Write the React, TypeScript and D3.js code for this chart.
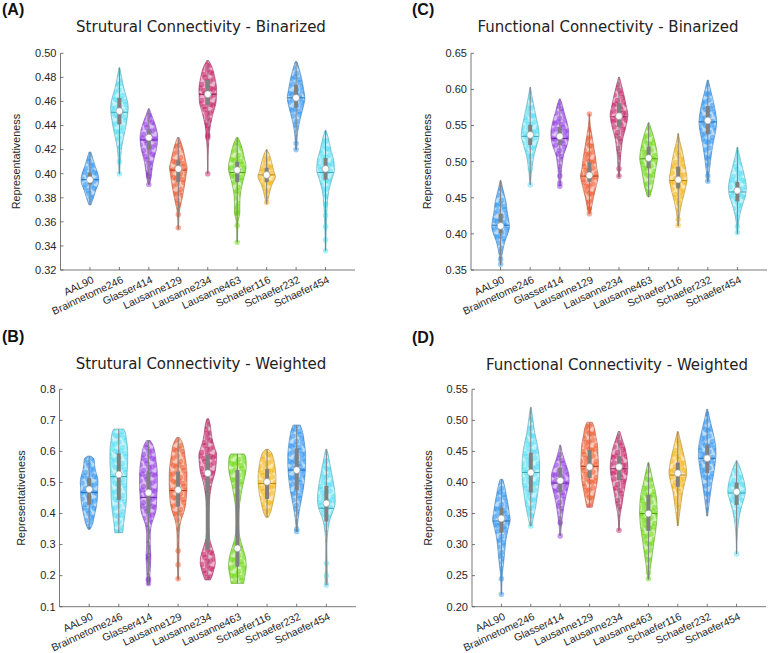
import React from 'react'
import * as d3 from 'd3'

type Prof = [number, number][]

const categories = ['AAL90', 'Brainnetome246', 'Glasser414', 'Lausanne129', 'Lausanne234', 'Lausanne463', 'Schaefer116', 'Schaefer232', 'Schaefer454']
const violinColors = ['#1e8ff5', '#45dcf5', '#8a2be2', '#f04b1c', '#c4105c', '#62d800', '#f4b000', '#1e8ff5', '#45dcf5']

// ---- (A) structural, binarized
const aTicks = [0.32, 0.34, 0.36, 0.38, 0.4, 0.42, 0.44, 0.46, 0.48, 0.5]
const aProfiles: Prof[] = [
  [[0.418, 0.1], [0.412, 0.35], [0.406, 0.6], [0.4, 0.9], [0.394, 1], [0.386, 0.65], [0.38, 0.4], [0.374, 0.1]],
  [[0.488, 0.05], [0.48, 0.25], [0.471, 0.5], [0.462, 0.85], [0.455, 1], [0.447, 0.9], [0.436, 0.65], [0.424, 0.3], [0.415, 0.15], [0.408, 0.08], [0.4, 0.04]],
  [[0.454, 0.05], [0.448, 0.35], [0.44, 0.75], [0.43, 1], [0.42, 0.85], [0.41, 0.5], [0.4, 0.3], [0.395, 0.2], [0.391, 0.05]],
  [[0.43, 0.1], [0.425, 0.35], [0.42, 0.55], [0.41, 0.85], [0.405, 1], [0.4, 0.9], [0.39, 0.7], [0.38, 0.45], [0.375, 0.3], [0.37, 0.15], [0.365, 0.08], [0.36, 0.05], [0.354, 0.03]],
  [[0.494, 0.1], [0.49, 0.4], [0.48, 0.8], [0.47, 1], [0.46, 0.95], [0.45, 0.6], [0.44, 0.3], [0.43, 0.15], [0.42, 0.06], [0.41, 0.03], [0.4, 0.02]],
  [[0.43, 0.1], [0.425, 0.4], [0.415, 0.75], [0.405, 1], [0.395, 0.7], [0.385, 0.4], [0.375, 0.3], [0.368, 0.3], [0.36, 0.1], [0.35, 0.05], [0.343, 0.03]],
  [[0.42, 0.05], [0.415, 0.35], [0.41, 0.55], [0.4, 0.9], [0.398, 1], [0.39, 0.55], [0.385, 0.35], [0.38, 0.2], [0.375, 0.05]],
  [[0.493, 0.1], [0.487, 0.35], [0.48, 0.6], [0.47, 0.85], [0.463, 1], [0.455, 0.8], [0.445, 0.45], [0.44, 0.3], [0.43, 0.12], [0.425, 0.08], [0.42, 0.04]],
  [[0.436, 0.05], [0.43, 0.3], [0.42, 0.6], [0.41, 0.95], [0.403, 1], [0.395, 0.7], [0.385, 0.35], [0.375, 0.2], [0.365, 0.12], [0.355, 0.08], [0.345, 0.05], [0.336, 0.03]],
]
const aMedian = [0.395, 0.452, 0.43, 0.404, 0.466, 0.403, 0.399, 0.463, 0.404]
const aQ1 = [0.391, 0.441, 0.42, 0.393, 0.457, 0.393, 0.393, 0.455, 0.395]
const aQ3 = [0.401, 0.463, 0.436, 0.411, 0.478, 0.41, 0.405, 0.474, 0.413]
const aMean = [0.395, 0.451, 0.428, 0.403, 0.466, 0.401, 0.399, 0.463, 0.401]
const aTails = [[], [0.41, 0.4], [0.4, 0.398, 0.391], [0.375, 0.366, 0.355], [0.44, 0.432, 0.43, 0.4], [0.368, 0.367, 0.357, 0.343], [0.376], [0.425, 0.42], [0.375, 0.365, 0.356, 0.345, 0.336]]

// ---- (B) structural, weighted
const bTicks = [0.1, 0.2, 0.3, 0.4, 0.5, 0.6, 0.7, 0.8]
const bProfiles: Prof[] = [
  [[0.585, 0.15], [0.575, 0.55], [0.56, 0.6], [0.54, 0.7], [0.52, 0.9], [0.5, 1], [0.48, 0.95], [0.46, 0.95], [0.44, 0.9], [0.42, 0.8], [0.4, 0.65], [0.38, 0.5], [0.36, 0.3], [0.349, 0.1]],
  [[0.672, 0.55], [0.66, 0.75], [0.64, 0.85], [0.62, 0.95], [0.6, 1], [0.57, 1], [0.54, 0.95], [0.5, 0.9], [0.47, 0.88], [0.44, 0.85], [0.4, 0.7], [0.37, 0.55], [0.338, 0.45]],
  [[0.635, 0.2], [0.62, 0.5], [0.6, 0.7], [0.57, 0.85], [0.55, 0.95], [0.52, 1], [0.49, 1], [0.46, 0.95], [0.43, 0.9], [0.41, 0.85], [0.39, 0.65], [0.37, 0.4], [0.35, 0.25], [0.33, 0.2], [0.3, 0.2], [0.27, 0.25], [0.25, 0.25], [0.22, 0.2], [0.19, 0.15], [0.17, 0.08]],
  [[0.645, 0.15], [0.63, 0.45], [0.61, 0.65], [0.58, 0.8], [0.55, 0.95], [0.52, 1], [0.49, 1], [0.46, 0.95], [0.43, 0.85], [0.4, 0.6], [0.38, 0.35], [0.36, 0.2], [0.33, 0.12], [0.3, 0.1], [0.27, 0.1], [0.24, 0.08], [0.21, 0.06], [0.188, 0.04]],
  [[0.705, 0.1], [0.69, 0.25], [0.67, 0.35], [0.64, 0.5], [0.61, 0.8], [0.59, 1], [0.56, 0.95], [0.53, 0.8], [0.5, 0.5], [0.47, 0.3], [0.44, 0.18], [0.41, 0.12], [0.38, 0.1], [0.35, 0.12], [0.32, 0.2], [0.29, 0.5], [0.26, 0.8], [0.24, 0.85], [0.22, 0.7], [0.2, 0.5], [0.186, 0.3]],
  [[0.592, 0.75], [0.58, 0.95], [0.55, 1], [0.52, 0.85], [0.49, 0.6], [0.46, 0.4], [0.43, 0.25], [0.4, 0.15], [0.37, 0.12], [0.35, 0.15], [0.32, 0.3], [0.29, 0.6], [0.26, 0.9], [0.23, 1], [0.2, 0.85], [0.175, 0.7]],
  [[0.607, 0.1], [0.6, 0.4], [0.58, 0.7], [0.56, 0.85], [0.54, 0.95], [0.52, 1], [0.5, 1], [0.48, 0.95], [0.46, 0.85], [0.44, 0.7], [0.42, 0.55], [0.4, 0.35], [0.388, 0.15]],
  [[0.685, 0.4], [0.67, 0.6], [0.65, 0.75], [0.62, 0.9], [0.59, 1], [0.56, 1], [0.53, 0.95], [0.5, 0.85], [0.47, 0.7], [0.44, 0.5], [0.41, 0.3], [0.38, 0.15], [0.36, 0.08], [0.342, 0.05]],
  [[0.607, 0.05], [0.59, 0.2], [0.56, 0.4], [0.53, 0.6], [0.5, 0.8], [0.47, 0.95], [0.44, 1], [0.42, 0.9], [0.4, 0.65], [0.38, 0.4], [0.35, 0.2], [0.32, 0.1], [0.29, 0.06], [0.26, 0.08], [0.23, 0.1], [0.2, 0.12], [0.18, 0.15], [0.17, 0.15]],
]
const bMedian = [0.478, 0.526, 0.467, 0.476, 0.53, 0.288, 0.502, 0.54, 0.433]
const bQ1 = [0.428, 0.444, 0.4, 0.422, 0.283, 0.229, 0.447, 0.476, 0.374]
const bQ3 = [0.514, 0.594, 0.535, 0.535, 0.589, 0.54, 0.543, 0.61, 0.489]
const bMean = [0.468, 0.519, 0.452, 0.474, 0.467, 0.38, 0.497, 0.54, 0.417]
const bTails = [[], [], [0.265, 0.255, 0.19, 0.185, 0.175], [0.28, 0.235, 0.19], [], [], [], [0.35, 0.342], [0.24, 0.2, 0.17]]

// ---- (C) functional, binarized
const cTicks = [0.35, 0.4, 0.45, 0.5, 0.55, 0.6, 0.65]
const cProfiles: Prof[] = [
  [[0.474, 0.05], [0.465, 0.2], [0.455, 0.4], [0.445, 0.6], [0.43, 0.75], [0.42, 0.9], [0.41, 1], [0.4, 0.8], [0.39, 0.5], [0.38, 0.3], [0.37, 0.15], [0.36, 0.05], [0.357, 0.03]],
  [[0.603, 0.03], [0.59, 0.2], [0.575, 0.45], [0.56, 0.7], [0.545, 0.95], [0.537, 1], [0.525, 0.8], [0.51, 0.45], [0.5, 0.3], [0.49, 0.18], [0.48, 0.1], [0.468, 0.03]],
  [[0.587, 0.05], [0.58, 0.25], [0.57, 0.45], [0.555, 0.8], [0.54, 1], [0.53, 0.95], [0.52, 0.75], [0.51, 0.45], [0.5, 0.3], [0.49, 0.2], [0.48, 0.15], [0.466, 0.05]],
  [[0.566, 0.03], [0.55, 0.1], [0.535, 0.3], [0.52, 0.5], [0.505, 0.7], [0.49, 0.85], [0.48, 1], [0.47, 0.85], [0.46, 0.65], [0.45, 0.45], [0.44, 0.3], [0.428, 0.08]],
  [[0.617, 0.05], [0.605, 0.3], [0.59, 0.6], [0.575, 0.85], [0.565, 1], [0.555, 0.9], [0.54, 0.6], [0.53, 0.4], [0.52, 0.3], [0.51, 0.2], [0.5, 0.15], [0.49, 0.1], [0.479, 0.05]],
  [[0.554, 0.05], [0.545, 0.3], [0.535, 0.55], [0.52, 0.85], [0.505, 1], [0.49, 0.8], [0.475, 0.6], [0.465, 0.45], [0.455, 0.2], [0.451, 0.05]],
  [[0.539, 0.03], [0.53, 0.15], [0.515, 0.45], [0.5, 0.7], [0.485, 0.9], [0.475, 1], [0.465, 0.85], [0.45, 0.55], [0.44, 0.35], [0.43, 0.2], [0.42, 0.1], [0.411, 0.03]],
  [[0.613, 0.05], [0.6, 0.3], [0.585, 0.6], [0.57, 0.85], [0.555, 1], [0.54, 0.85], [0.525, 0.6], [0.51, 0.4], [0.5, 0.3], [0.49, 0.2], [0.48, 0.1], [0.472, 0.03]],
  [[0.52, 0.03], [0.51, 0.2], [0.495, 0.5], [0.48, 0.8], [0.465, 1], [0.455, 0.95], [0.445, 0.7], [0.435, 0.45], [0.425, 0.25], [0.415, 0.12], [0.4, 0.03]],
]
const cMedian = [0.411, 0.537, 0.535, 0.481, 0.563, 0.505, 0.475, 0.557, 0.46]
const cQ1 = [0.401, 0.523, 0.523, 0.472, 0.548, 0.491, 0.463, 0.538, 0.445]
const cQ3 = [0.428, 0.551, 0.548, 0.499, 0.581, 0.521, 0.493, 0.577, 0.472]
const cMean = [0.412, 0.535, 0.532, 0.48, 0.562, 0.504, 0.474, 0.555, 0.458]
const cTails = [[0.365, 0.358], [0.49, 0.468], [0.48, 0.47, 0.466], [0.566, 0.435, 0.428], [0.49, 0.48], [0.455], [0.42, 0.412], [0.48, 0.473], [0.41, 0.402]]

// ---- (D) functional, weighted
const dTicks = [0.2, 0.25, 0.3, 0.35, 0.4, 0.45, 0.5, 0.55]
const dProfiles: Prof[] = [
  [[0.405, 0.15], [0.395, 0.35], [0.38, 0.55], [0.365, 0.75], [0.35, 0.9], [0.34, 1], [0.33, 0.85], [0.315, 0.6], [0.3, 0.45], [0.285, 0.35], [0.27, 0.25], [0.255, 0.12], [0.24, 0.06], [0.22, 0.03]],
  [[0.521, 0.05], [0.5, 0.25], [0.48, 0.45], [0.46, 0.75], [0.44, 0.95], [0.42, 1], [0.4, 0.95], [0.38, 0.75], [0.36, 0.55], [0.35, 0.4], [0.34, 0.25], [0.33, 0.1]],
  [[0.46, 0.05], [0.45, 0.2], [0.44, 0.4], [0.425, 0.75], [0.41, 1], [0.4, 1], [0.39, 0.85], [0.375, 0.6], [0.36, 0.4], [0.345, 0.25], [0.33, 0.12], [0.314, 0.04]],
  [[0.497, 0.3], [0.49, 0.5], [0.475, 0.7], [0.46, 0.9], [0.445, 0.95], [0.43, 1], [0.415, 0.95], [0.4, 0.85], [0.385, 0.65], [0.37, 0.45], [0.36, 0.3]],
  [[0.482, 0.1], [0.47, 0.35], [0.455, 0.7], [0.44, 0.9], [0.425, 1], [0.41, 0.9], [0.395, 0.7], [0.38, 0.5], [0.365, 0.35], [0.35, 0.15], [0.335, 0.06], [0.323, 0.03]],
  [[0.432, 0.05], [0.42, 0.25], [0.4, 0.55], [0.385, 0.8], [0.37, 0.95], [0.35, 1], [0.33, 0.9], [0.31, 0.7], [0.29, 0.5], [0.275, 0.35], [0.26, 0.2], [0.25, 0.1], [0.244, 0.05]],
  [[0.482, 0.05], [0.47, 0.25], [0.455, 0.5], [0.44, 0.75], [0.425, 0.95], [0.415, 1], [0.4, 0.8], [0.385, 0.55], [0.37, 0.4], [0.355, 0.25], [0.34, 0.12], [0.33, 0.04]],
  [[0.518, 0.05], [0.505, 0.25], [0.49, 0.5], [0.475, 0.75], [0.46, 0.95], [0.445, 1], [0.43, 0.9], [0.415, 0.75], [0.4, 0.55], [0.385, 0.4], [0.37, 0.25], [0.355, 0.12], [0.346, 0.05]],
  [[0.435, 0.05], [0.425, 0.35], [0.41, 0.7], [0.395, 0.95], [0.385, 1], [0.37, 0.75], [0.355, 0.45], [0.34, 0.25], [0.325, 0.12], [0.31, 0.06], [0.3, 0.04], [0.285, 0.02]],
]
const dMedian = [0.342, 0.416, 0.403, 0.425, 0.425, 0.35, 0.415, 0.439, 0.385]
const dQ1 = [0.319, 0.384, 0.385, 0.407, 0.404, 0.322, 0.393, 0.415, 0.364]
const dQ3 = [0.36, 0.448, 0.424, 0.452, 0.442, 0.38, 0.432, 0.46, 0.4]
const dMean = [0.338, 0.416, 0.399, 0.426, 0.422, 0.35, 0.412, 0.439, 0.383]
const dTails = [[0.245, 0.22], [0.33], [0.335, 0.314], [], [0.323], [0.255, 0.245], [], [], [0.285]]

// texture of scattered dots used inside the violins
const dotTile = 16
const dotSpots = [[2, 3], [9, 1.5], [14, 5], [5.5, 8.5], [11.5, 10], [1, 13.5], [8, 14.5], [14.5, 12.5], [11, 5.5], [4, 12]]

const FONT = 'Liberation Sans, Arial, sans-serif'
const TITLE_FONT = 'DejaVu Sans, sans-serif'
const AXIS = '#555'

interface PanelProps {
  id: string
  letter: string
  title: string
  left: number
  right: number
  top: number
  bottom: number
  yDomain: [number, number]
  ticks: number[]
  digits: number
  titleX: number
  titleY: number
  letterX: number
  letterY: number
  ylabelX: number
  profiles: Prof[]
  medians: number[]
  q1: number[]
  q3: number[]
  means: number[]
  tails: number[][]
}

function widthAt(p: Prof, v: number) {
  const s = p.slice().sort((a, b) => a[0] - b[0])
  const f = d3.scaleLinear().domain(s.map(d => d[0])).range(s.map(d => d[1])).clamp(true)
  return f(v)
}

function Panel(props: PanelProps) {
  const { id, left, right, top, bottom } = props
  const x = d3.scaleLinear().domain([0, 10]).range([left, right])
  const y = d3.scaleLinear().domain(props.yDomain).range([bottom, top])
  const half = 0.3
  const area = d3
    .area<[number, number]>()
    .y(d => y(d[0]))
    .curve(d3.curveMonotoneY)

  return (
    <g>
      <text x={props.letterX} y={props.letterY} fontFamily={FONT} fontWeight="bold" fontSize={16} fill="#111">
        ({props.letter})
      </text>
      <text x={props.titleX} y={props.titleY} textAnchor="middle" fontFamily={TITLE_FONT} fontSize={15} fill="#222">
        {props.title}
      </text>

      {props.profiles.map((prof, i) => {
        const pos = i + 1
        const col = violinColors[i]
        const sorted = prof.slice().sort((a, b) => a[0] - b[0])
        const d = area.x0(p => x(pos - p[1] * half)).x1(p => x(pos + p[1] * half))(sorted) ?? ''
        const lo = sorted[0][0]
        const hi = sorted[sorted.length - 1][0]
        const mw = widthAt(prof, props.means[i]) * half
        const edge = d3.interpolateRgb(col, '#555')(0.45)
        const clip = `${id}-clip-${i}`
        return (
          <g key={i}>
            <clipPath id={clip}>
              <path d={d} />
            </clipPath>
            <path d={d} fill={col} fillOpacity={0.3} />
            <g clipPath={`url(#${clip})`}>
              <rect x={x(pos - half) - 2} y={y(hi) - 2} width={x(pos + half) - x(pos - half) + 4} height={y(lo) - y(hi) + 4} fill={`url(#${id}-dots-${i})`} />
            </g>
            <path d={d} fill="none" stroke={edge} strokeWidth={0.7} strokeOpacity={0.8} />
            {props.tails[i].map((v, k) => (
              <circle key={k} cx={x(pos)} cy={y(v)} r={2.8} fill={col} fillOpacity={0.45} />
            ))}
            <line x1={x(pos - mw)} x2={x(pos + mw)} y1={y(props.means[i])} y2={y(props.means[i])} stroke={d3.color(col)!.darker(0.8).formatHex()} strokeWidth={1} />
            <line x1={x(pos)} x2={x(pos)} y1={y(lo)} y2={y(hi)} stroke="#808080" strokeWidth={1} />
            <line x1={x(pos)} x2={x(pos)} y1={y(props.q1[i])} y2={y(props.q3[i])} stroke="#808080" strokeWidth={4} />
            <circle cx={x(pos)} cy={y(props.medians[i])} r={3.4} fill="#fff" stroke="#8a8a8a" strokeWidth={0.6} />
          </g>
        )
      })}

      {/* axes */}
      <line x1={left} x2={left} y1={top} y2={bottom} stroke={AXIS} strokeWidth={0.8} />
      <line x1={left} x2={right} y1={bottom} y2={bottom} stroke={AXIS} strokeWidth={0.8} />
      {props.ticks.map(t => (
        <g key={t}>
          <line x1={left} x2={left + 3} y1={y(t)} y2={y(t)} stroke={AXIS} strokeWidth={0.8} />
          <text x={left - 4} y={y(t)} dy="0.35em" textAnchor="end" fontFamily={FONT} fontSize={11} fill="#262626">
            {d3.format(`.${props.digits}f`)(t)}
          </text>
        </g>
      ))}
      {categories.map((c, i) => (
        <g key={c}>
          <line x1={x(i + 1)} x2={x(i + 1)} y1={bottom} y2={bottom - 3} stroke={AXIS} strokeWidth={0.8} />
          <text transform={`translate(${x(i + 1) + 3},${bottom + 9}) rotate(-25)`} textAnchor="end" dy="0.35em" fontFamily={FONT} fontSize={10.5} fill="#262626">
            {c}
          </text>
        </g>
      ))}
      <text transform={`translate(${props.ylabelX},${(top + bottom) / 2}) rotate(-90)`} textAnchor="middle" dy="0.35em" fontFamily={FONT} fontSize={10.8} fill="#262626">
        Representativeness
      </text>
    </g>
  )
}

function DotPatterns({ id }: { id: string }) {
  return (
    <>
      {violinColors.map((col, i) => (
        <pattern key={i} id={`${id}-dots-${i}`} width={dotTile} height={dotTile} patternUnits="userSpaceOnUse" patternTransform={`translate(${i * 5},${i * 7})`}>
          {dotSpots.flatMap(([sx, sy], k) =>
            [-1, 0, 1].flatMap(ox =>
              [-1, 0, 1].map(oy => (
                <circle key={`${k}-${ox}-${oy}`} cx={sx + ox * dotTile} cy={sy + oy * dotTile} r={2.8} fill={col} fillOpacity={0.45} />
              ))
            )
          )}
        </pattern>
      ))}
    </>
  )
}

export default function App() {
  return (
    <div style={{ position: 'absolute', left: 0, top: 0 }}>
      <svg width={770} height={653} style={{ display: 'block', background: '#fff' }}>
        <defs>
          {['A', 'B', 'C', 'D'].map(p => (
            <DotPatterns key={p} id={p} />
          ))}
        </defs>
        <Panel id="A" letter="A" title="Strutural Connectivity - Binarized" left={60.5} right={355} top={53.3} bottom={270}
          yDomain={[0.32, 0.5]} ticks={aTicks} digits={2} titleX={201} titleY={32} letterX={2} letterY={15} ylabelX={16}
          profiles={aProfiles} medians={aMedian} q1={aQ1} q3={aQ3} means={aMean} tails={aTails} />
        <Panel id="B" letter="B" title="Strutural Connectivity - Weighted" left={59.5} right={356} top={389.3} bottom={606.7}
          yDomain={[0.1, 0.8]} ticks={bTicks} digits={1} titleX={201} titleY={369} letterX={2} letterY={342} ylabelX={21}
          profiles={bProfiles} medians={bMedian} q1={bQ1} q3={bQ3} means={bMean} tails={bTails} />
        <Panel id="C" letter="C" title="Functional Connectivity - Binarized" left={471} right={767} top={53.3} bottom={270}
          yDomain={[0.35, 0.65]} ticks={cTicks} digits={2} titleX={608} titleY={32} letterX={412} letterY={15} ylabelX={427}
          profiles={cProfiles} medians={cMedian} q1={cQ1} q3={cQ3} means={cMean} tails={cTails} />
        <Panel id="D" letter="D" title="Functional Connectivity - Weighted" left={472} right={766} top={389.3} bottom={606.7}
          yDomain={[0.2, 0.55]} ticks={dTicks} digits={2} titleX={617} titleY={370} letterX={412} letterY={343} ylabelX={428}
          profiles={dProfiles} medians={dMedian} q1={dQ1} q3={dQ3} means={dMean} tails={dTails} />
      </svg>
    </div>
  )
}
